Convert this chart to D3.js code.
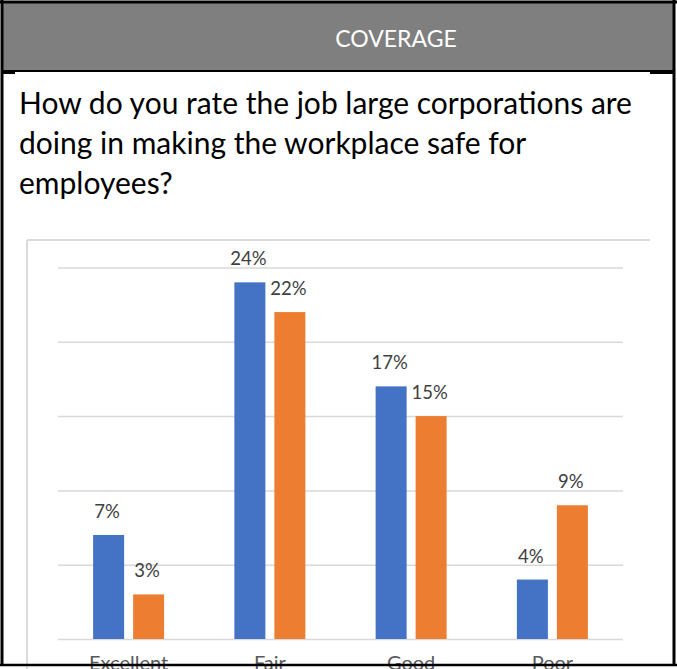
<!DOCTYPE html>
<html>
<head>
<meta charset="utf-8">
<script src="https://cdn.jsdelivr.net/npm/d3@7"></script>
<style>
  html, body { margin: 0; padding: 0; background: #ffffff; }
  svg { display: block; }
</style>
</head>
<body>
<div id="chart"></div>
<script>
const headerTitle = "COVERAGE";
const questionLines = [
  "How do you rate the job large corporations are",
  "doing in making the workplace safe for",
  "employees?"
];
const categories = ["Excellent", "Fair", "Good", "Poor"];
const seriesNames = ["Series 1", "Series 2"];
const series1Values = [7, 24, 17, 4];
const series2Values = [3, 22, 15, 9];
const yTicks = [0, 5, 10, 15, 20, 25];
const seriesColors = ["#4472C4", "#ED7D31"];

const W = 677, H = 669;
const FONT = "Lato, 'Open Sans', sans-serif";
const svg = d3.select("#chart").append("svg")
  .attr("width", W).attr("height", H);

// Header band
svg.append("rect").attr("x", 2).attr("y", 2).attr("width", 672).attr("height", 69)
  .attr("fill", "#7f7f7f");
svg.append("text").attr("x", 396).attr("y", 47)
  .attr("text-anchor", "middle")
  .attr("font-family", FONT)
  .attr("font-size", 23).attr("fill", "#ffffff")
  .text(headerTitle);

// Question text
const q = svg.append("text")
  .attr("font-family", FONT)
  .attr("font-size", 30).attr("fill", "#000000");
questionLines.forEach((t, i) => {
  q.append("tspan").attr("x", 19).attr("y", 114 + i * 40).text(t);
});

// Chart frame (embedded image border)
svg.append("line").attr("x1", 27).attr("x2", 650).attr("y1", 240).attr("y2", 240)
  .attr("stroke", "#cfcfcf").attr("stroke-width", 1.5);
svg.append("line").attr("x1", 27).attr("x2", 27).attr("y1", 240).attr("y2", 669)
  .attr("stroke", "#cfcfcf").attr("stroke-width", 1.5);

// Scales
const x0 = d3.scaleBand().domain(categories).range([58, 623]).paddingInner(0).paddingOuter(0);
const groupW = 71;
const x1 = d3.scaleBand().domain(seriesNames)
  .range([x0.bandwidth() / 2 - groupW / 2, x0.bandwidth() / 2 + groupW / 2])
  .paddingInner(0.225).paddingOuter(0);
const y = d3.scaleLinear().domain([0, 25]).range([639, 267.5]);

// Gridlines via axis
const grid = svg.append("g").attr("transform", "translate(58,0)")
  .call(d3.axisLeft(y).tickValues(yTicks).tickSize(-(623 - 58)).tickFormat(""));
grid.select(".domain").remove();
grid.selectAll(".tick line").attr("stroke", "#d9d9d9").attr("stroke-width", 1.5);

const data = categories.map((c, i) => ({
  cat: c,
  vals: [
    { s: seriesNames[0], v: series1Values[i], color: seriesColors[0] },
    { s: seriesNames[1], v: series2Values[i], color: seriesColors[1] }
  ]
}));

const groups = svg.append("g").selectAll("g").data(data).join("g")
  .attr("transform", d => `translate(${x0(d.cat)},0)`);

groups.selectAll("rect").data(d => d.vals).join("rect")
  .attr("x", d => x1(d.s))
  .attr("width", x1.bandwidth())
  .attr("y", d => y(d.v))
  .attr("height", d => y(0) - y(d.v))
  .attr("fill", d => d.color);

groups.selectAll("text.lbl").data(d => d.vals).join("text")
  .attr("class", "lbl")
  .attr("x", d => x1(d.s) + x1.bandwidth() / 2 - 1.5)
  .attr("y", d => y(d.v) - 17)
  .attr("text-anchor", "middle")
  .attr("font-family", FONT)
  .attr("font-size", 18.5).attr("fill", "#404040")
  .text(d => d.v + "%");

// Category axis labels
const xAxis = svg.append("g").attr("transform", "translate(0,639)")
  .call(d3.axisBottom(x0).tickSize(0).tickPadding(17));
xAxis.select(".domain").remove();
xAxis.selectAll("text")
  .attr("font-family", FONT)
  .attr("font-size", 20).attr("fill", "#595959")
  .attr("dy", "0.71em");

// Outer black borders
svg.append("line").attr("x1", 0).attr("x2", 677).attr("y1", 2).attr("y2", 2)
  .attr("stroke", "#000").attr("stroke-width", 3);
svg.append("line").attr("x1", 2).attr("x2", 675).attr("y1", 71).attr("y2", 71)
  .attr("stroke", "#000").attr("stroke-width", 2);
svg.append("line").attr("x1", 2).attr("x2", 15).attr("y1", 73).attr("y2", 73)
  .attr("stroke", "#000").attr("stroke-width", 2);
svg.append("line").attr("x1", 650).attr("x2", 675).attr("y1", 73).attr("y2", 73)
  .attr("stroke", "#000").attr("stroke-width", 2);
svg.append("line").attr("x1", 2).attr("x2", 2).attr("y1", 0).attr("y2", 666)
  .attr("stroke", "#000").attr("stroke-width", 3);
svg.append("line").attr("x1", 674).attr("x2", 674).attr("y1", 0).attr("y2", 666)
  .attr("stroke", "#000").attr("stroke-width", 3);
svg.append("line").attr("x1", 0).attr("x2", 677).attr("y1", 665).attr("y2", 665)
  .attr("stroke", "#000").attr("stroke-width", 2.5);
</script>
</body>
</html>
